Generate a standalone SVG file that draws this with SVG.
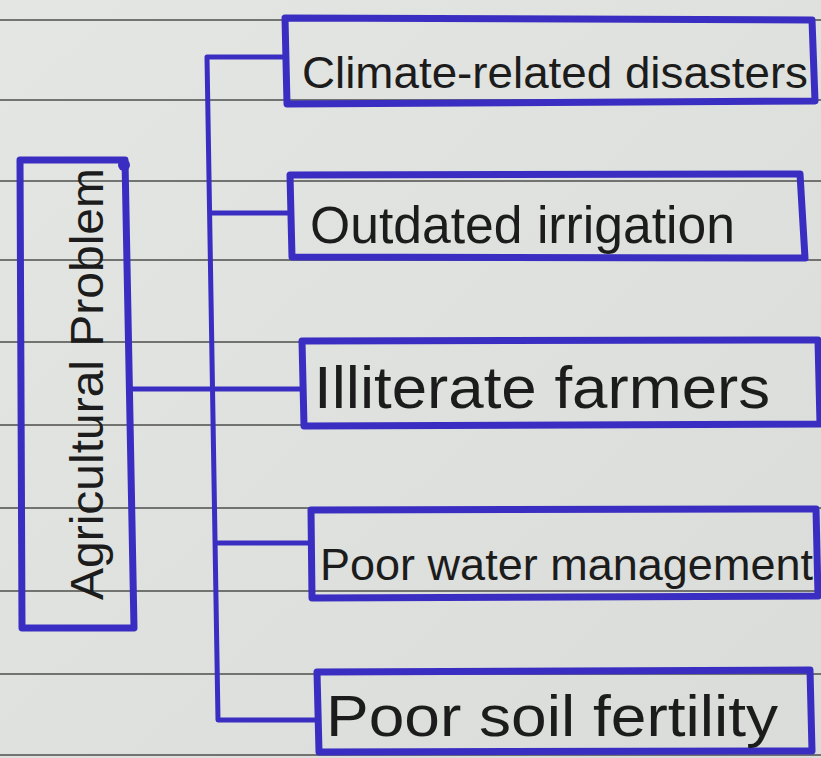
<svg xmlns="http://www.w3.org/2000/svg" width="821" height="758" viewBox="0 0 821 758">
<defs>
<style>
.rule{stroke:#4d4f4c;stroke-width:1.6;fill:none}
.box{stroke:#3a2ec2;stroke-width:7;fill:none;stroke-linejoin:round}
.conn{stroke:#3a2ec2;stroke-width:5;fill:none;stroke-linejoin:round}
.lbl{font-family:"Liberation Sans","DejaVu Sans",sans-serif;font-size:44px;fill:#1c1c1c}
</style>
<linearGradient id="paper" x1="0" y1="0" x2="1" y2="1">
<stop offset="0" stop-color="#e4e6e3"/>
<stop offset="1" stop-color="#d9dcd8"/>
</linearGradient>
</defs>
<rect width="821" height="758" fill="url(#paper)"/>
<g id="rules">
<path class="rule" d="M0,20 H821 M0,100 H821 M0,181 H821 M0,260 H821 M0,342 H821 M0,425 H821 M0,508 H821 M0,591 H821 M0,674 H821 M0,755 H821"/>
</g>
<g id="connectors">
<path class="conn" d="M287,57 H207 L218,720 H318"/>
<path class="conn" d="M210,213 H291"/>
<path class="conn" d="M131,389 H305"/>
<path class="conn" d="M215,543 H312"/>
</g>
<g id="root">
<path class="box" d="M20,160 L125,160 L134,628 L22,628 Z"/>
<circle cx="124" cy="165" r="6" fill="#3a2ec2"/>
<text class="lbl" style="font-size:47px" transform="translate(103,600) rotate(-90)" x="0" y="0" textLength="432" lengthAdjust="spacingAndGlyphs">Agricultural Problem</text>
</g>
<g id="n1">
<path class="box" d="M285,18 L812,20 L815,101 L287,104 Z"/>
<text class="lbl" style="font-size:45px" x="302" y="88" textLength="506" lengthAdjust="spacingAndGlyphs">Climate-related disasters</text>
</g>
<g id="n2">
<path class="box" d="M290,175 L800,174 L805,258 L292,257 Z"/>
<text class="lbl" style="font-size:51px" x="310" y="243" textLength="425" lengthAdjust="spacingAndGlyphs">Outdated irrigation</text>
</g>
<g id="n3">
<path class="box" d="M302,341 L818,340 L820,424 L304,426 Z"/>
<text class="lbl" style="font-size:60px" x="314" y="408" textLength="456" lengthAdjust="spacingAndGlyphs">Illiterate farmers</text>
</g>
<g id="n4">
<path class="box" d="M311,510 L816,509 L818,596 L312,598 Z"/>
<text class="lbl" style="font-size:45px" x="320" y="580" textLength="493" lengthAdjust="spacingAndGlyphs">Poor water management</text>
</g>
<g id="n5">
<path class="box" d="M317,672 L810,670 L812,751 L319,752 Z"/>
<text class="lbl" style="font-size:58px" x="326" y="736" textLength="452" lengthAdjust="spacingAndGlyphs">Poor soil fertility</text>
</g>
</svg>
